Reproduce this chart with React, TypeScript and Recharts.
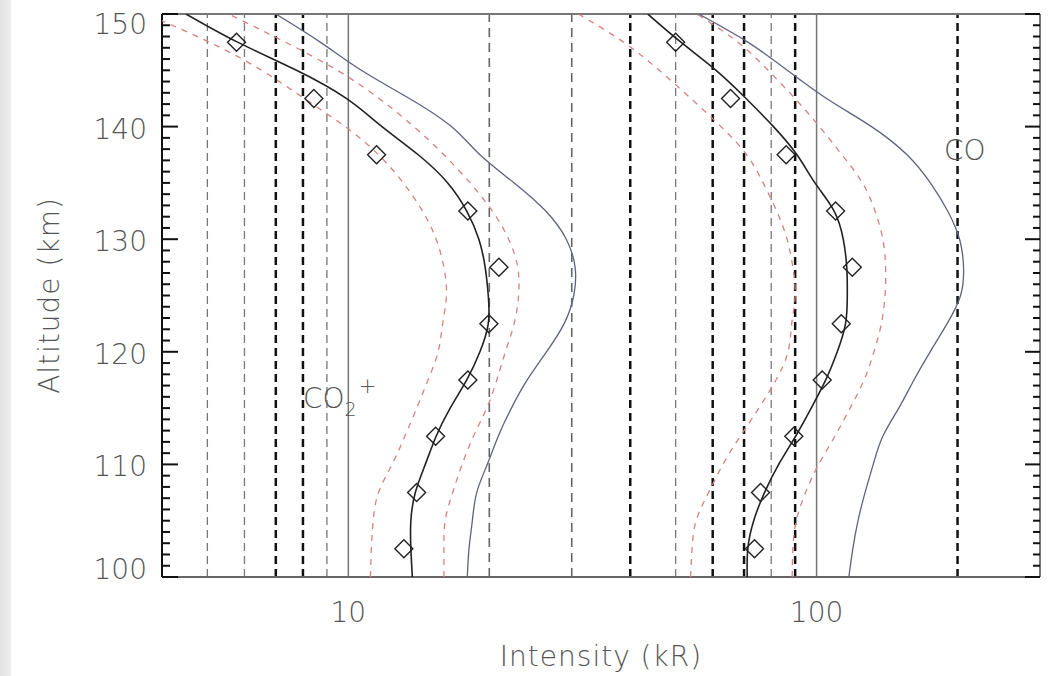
import React from "react"
import { ScatterChart, Scatter, XAxis, YAxis, ReferenceLine, ReferenceDot } from "recharts"

// model profiles sampled every 2.5 km
const altitudes = [100, 102.5, 105, 107.5, 110, 112.5, 115, 117.5, 120, 122.5, 125, 127.5, 130, 132.5, 135, 137.5, 140, 142.5, 145, 147.5, 150]

// CO2+ (kR)
const co2Fit = [13.7, 13.6, 13.6, 13.9, 14.6, 15.4, 16.5, 17.9, 19.1, 19.9, 19.9, 19.6, 19.0, 17.9, 16.3, 14.1, 11.8, 9.9, 7.75, 5.8, 4.5]
const co2Model = [17.95, 18.1, 18.4, 18.8, 19.8, 20.9, 22.3, 24.1, 26.5, 28.9, 30.3, 30.5, 29.2, 26.4, 22.6, 19.1, 16.6, 13.5, 10.66, 8.71, 7.0]
const co2Low = [11.15, 11.2, 11.3, 11.6, 12.4, 13.2, 14.0, 14.8, 15.55, 15.9, 16.2, 16.0, 15.4, 14.4, 13.1, 11.6, 9.84, 8.05, 6.53, 5.05, 3.7]
const co2High = [16.0, 16.0, 16.1, 16.7, 17.5, 18.5, 19.75, 20.75, 21.65, 22.6, 23.1, 23.0, 22.0, 20.3, 18.2, 16.0, 13.8, 11.63, 9.47, 7.34, 5.55]

// CO (kR)
const coFit = [71.1, 71.3, 73.4, 77.4, 83.0, 90.2, 97.4, 104.6, 110.7, 115.3, 116.3, 116.0, 114.0, 109.0, 99.2, 90.8, 80.9, 70.7, 61.0, 51.3, 43.6]
const coModel = [117.2, 119.5, 122.6, 126.9, 132.1, 138.5, 149.8, 161.4, 174.8, 190, 203, 206, 202, 190.5, 175, 156, 131, 105, 86.6, 71.3, 56]
const coLow = [53.8, 54.2, 55.3, 58.8, 63.1, 68.7, 75.3, 81.9, 86.9, 88.5, 90, 89, 86.5, 82.2, 76.9, 70.9, 62.5, 53.9, 46.1, 38.7, 31]
const coHigh = [88.7, 89, 90.5, 94.7, 101, 109.4, 117.9, 126.3, 132.6, 137.5, 140, 140.4, 138.5, 133.3, 125.3, 113.3, 101.4, 89.9, 78.8, 67.9, 55.5]

// observations (diamonds)
const obsAltitudes = [102.5, 107.5, 112.5, 117.5, 122.5, 127.5, 132.5, 137.5, 142.5, 147.5]
const co2Observed = [13.14, 13.99, 15.36, 18.0, 19.96, 20.97, 18.0, 11.49, 8.44, 5.77]
const coObserved = [73.7, 75.9, 89.4, 102.8, 112.9, 119.2, 109.8, 86.1, 65.5, 50.0]

const xTicks = [10, 100]
const altMajor = [100, 110, 120, 130, 140, 150]
const altTicks = [
  100, 101, 102, 103, 104, 105, 106, 107, 108, 109, 110, 111, 112, 113, 114, 115, 116, 117, 118, 119, 120,
  121, 122, 123, 124, 125, 126, 127, 128, 129, 130, 131, 132, 133, 134, 135, 136, 137, 138, 139, 140,
  141, 142, 143, 144, 145, 146, 147, 148, 149, 150,
]

const gridLight = [5, 6, 9, 50, 80]
const gridHeavy = [7, 8, 40, 60, 70, 90, 200]
const gridMid = [20, 30]
const gridSolid = [10, 100]

const FONT = "'DejaVu Sans', sans-serif"
const WEIGHT = 200
const TEXT = "#555"
const RED = "#d98080"
const BLUE = "#5d6280"

const pts = (vals: number[], alts: number[]) => vals.map((v, i) => ({ x: v, y: alts[i] }))

const noDot = () => <g />

function Diamond(props: any) {
  const { cx, cy } = props
  const r = 9
  return (
    <path
      d={`M${cx},${cy - r}L${cx + r},${cy}L${cx},${cy + r}L${cx - r},${cy}Z`}
      fill="none"
      stroke="#222"
      strokeWidth={1.4}
    />
  )
}

function LeftTick(props: any) {
  const { x, y, payload } = props
  const major = altMajor.includes(payload.value)
  const nudge = payload.value === 150 ? 20 : payload.value === 100 ? 2 : 12
  return (
    <g>
      <line x1={x} x2={x + (major ? 16 : 8)} y1={y} y2={y} stroke="#111" strokeWidth={2} />
      {major && (
        <text x={x - 15} y={y + nudge} textAnchor="end" fontSize={28} fill={TEXT} fontFamily={FONT} fontWeight={WEIGHT}>
          {payload.value}
        </text>
      )}
    </g>
  )
}

function RightTick(props: any) {
  const { x, y, payload } = props
  const major = altMajor.includes(payload.value)
  return <line x1={x} x2={x - (major ? 15 : 7)} y1={y} y2={y} stroke="#111" strokeWidth={2} />
}

function Co2Text(props: any) {
  const { cx, cy } = props
  return (
    <text x={cx} y={cy} fontSize={28} fill={TEXT} fontFamily={FONT} fontWeight={WEIGHT}>
      CO
      <tspan fontSize={19} dy={8}>2</tspan>
      <tspan fontSize={21} dy={-23} dx={2}>+</tspan>
    </text>
  )
}

function CoText(props: any) {
  const { cx, cy } = props
  return (
    <text x={cx} y={cy} fontSize={28} fill={TEXT} fontFamily={FONT} fontWeight={WEIGHT}>
      CO
    </text>
  )
}

const curve = (vals: number[], stroke: string, width: number, dash?: string, key?: string) => (
  <Scatter
    key={key}
    data={pts(vals, altitudes)}
    shape={noDot}
    line={{ stroke, strokeWidth: width, strokeDasharray: dash, fill: "none" }}
    lineJointType="natural"
    isAnimationActive={false}
  />
)

export default function App() {
  return (
    <div style={{ position: "absolute", left: 0, top: 0, width: 1050, height: 676, background: "#fff", overflow: "hidden" }}>
      <div
        style={{
          position: "absolute",
          left: 0,
          top: 0,
          width: 11,
          height: 676,
          background: "linear-gradient(to right, #e2e2e2, #eeeeee)",
        }}
      />
      <ScatterChart width={1050} height={676} margin={{ top: 14, right: 0, bottom: 0, left: 0 }}>
        <XAxis
          dataKey="x"
          type="number"
          scale="log"
          domain={[4, 300]}
          allowDataOverflow
          ticks={xTicks}
          interval={0}
          tickSize={0}
          tickMargin={25}
          height={99}
          axisLine={{ stroke: "#666", strokeWidth: 2 }}
          tick={{ fontSize: 28, fill: TEXT, fontFamily: FONT, fontWeight: WEIGHT }}
          label={{ value: "Intensity (kR)", position: "insideBottom", offset: 10, fontSize: 28, fill: TEXT, fontFamily: FONT, fontWeight: WEIGHT, letterSpacing: 1 }}
        />
        <YAxis
          dataKey="y"
          type="number"
          domain={[100, 150]}
          allowDataOverflow
          ticks={altTicks}
          interval={0}
          tickSize={0}
          tickMargin={0}
          tickLine={false}
          width={162}
          axisLine={{ stroke: "#111", strokeWidth: 2 }}
          tick={<LeftTick />}
          label={{
            value: "Altitude (km)",
            angle: -90,
            position: "insideLeft",
            offset: 49,
            fontSize: 28,
            fill: TEXT,
            fontFamily: FONT,
            fontWeight: WEIGHT,
            letterSpacing: 1,
            style: { textAnchor: "middle" },
          }}
        />
        <YAxis
          yAxisId="right"
          orientation="right"
          type="number"
          domain={[100, 150]}
          allowDataOverflow
          ticks={altTicks}
          interval={0}
          tickSize={0}
          tickMargin={0}
          tickLine={false}
          width={10}
          axisLine={{ stroke: "#777", strokeWidth: 2 }}
          tick={<RightTick />}
        />

        {gridLight.map((v) => (
          <ReferenceLine key={`l${v}`} x={v} stroke="#777" strokeWidth={1.3} strokeDasharray="8 5" />
        ))}
        {gridMid.map((v) => (
          <ReferenceLine key={`m${v}`} x={v} stroke="#666" strokeWidth={1.6} strokeDasharray="9 6" />
        ))}
        {gridHeavy.map((v) => (
          <ReferenceLine key={`h${v}`} x={v} stroke="#111" strokeWidth={2.5} strokeDasharray="8 5" />
        ))}
        {gridSolid.map((v) => (
          <ReferenceLine key={`s${v}`} x={v} stroke="#777" strokeWidth={1.5} />
        ))}
        <ReferenceLine y={150} stroke="#777" strokeWidth={2} />

        {curve(co2Low, RED, 1.3, "6 6", "c2l")}
        {curve(co2High, RED, 1.3, "6 6", "c2h")}
        {curve(co2Model, BLUE, 1.3, undefined, "c2m")}
        {curve(co2Fit, "#222", 1.6, undefined, "c2f")}
        {curve(coLow, RED, 1.3, "6 6", "col")}
        {curve(coHigh, RED, 1.3, "6 6", "coh")}
        {curve(coModel, BLUE, 1.3, undefined, "com")}
        {curve(coFit, "#222", 1.6, undefined, "cof")}

        <Scatter data={pts(co2Observed, obsAltitudes)} shape={<Diamond />} isAnimationActive={false} />
        <Scatter data={pts(coObserved, obsAltitudes)} shape={<Diamond />} isAnimationActive={false} />

        <ReferenceDot x={8} y={115} r={0} shape={<Co2Text />} />
        <ReferenceDot x={187} y={137} r={0} shape={<CoText />} />
      </ScatterChart>
    </div>
  )
}
